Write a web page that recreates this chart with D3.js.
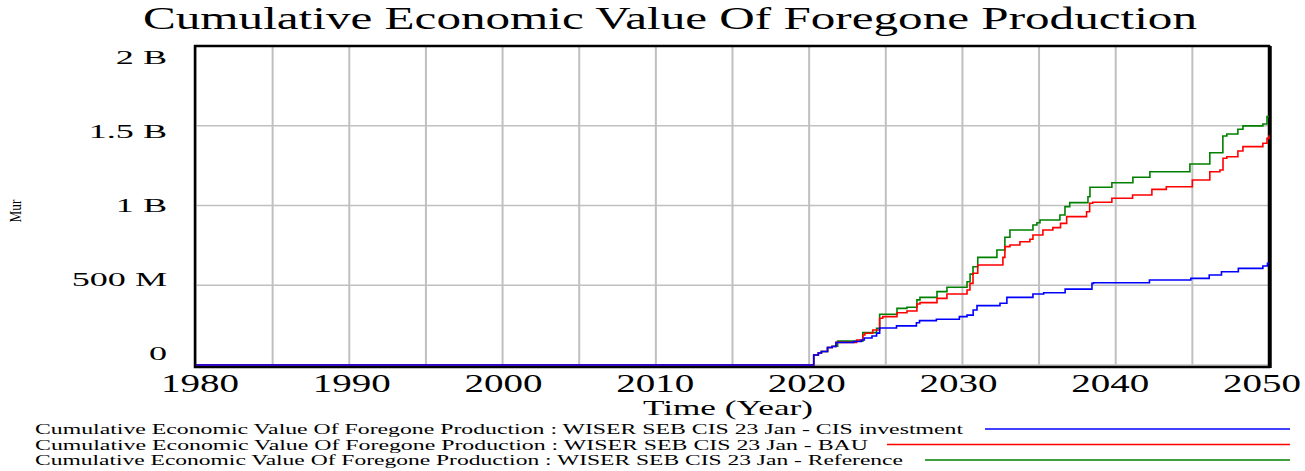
<!DOCTYPE html>
<html>
<head>
<meta charset="utf-8">
<script src="https://cdn.jsdelivr.net/npm/d3@7"></script>
<style>
  body { margin: 0; background: #fff; }
  text { font-family: "Liberation Serif", "Times New Roman", serif; fill: #000; }
</style>
</head>
<body>
<div id="chart"></div>
<script>
// values in millions (Mur)
var cisInvestment = [
  [1980, 0], [2020.1, 0], [2020.3, 63], [2020.6, 75], [2020.8, 85], [2021.2, 110], [2021.5, 116],
  [2021.75, 141], [2022.9, 147], [2023.4, 157], [2023.6, 169], [2024.1, 182], [2024.4, 200],
  [2024.6, 232], [2025.7, 245], [2027.0, 265], [2027.2, 278], [2028.3, 287], [2029.8, 303],
  [2030.3, 313], [2030.7, 345], [2030.95, 372], [2032.45, 387], [2032.9, 424], [2034.6, 445],
  [2035.3, 453], [2036.7, 476], [2038.45, 512], [2038.55, 516], [2042.2, 533], [2044.9, 543],
  [2046.1, 564], [2046.9, 585], [2048.0, 606], [2049.6, 621], [2049.9, 638], [2050, 638]
]
var bau = [
  [1980, 0], [2020.1, 0], [2020.3, 63], [2020.6, 75], [2020.8, 85], [2021.2, 110], [2021.5, 116],
  [2021.75, 142], [2023.1, 157], [2023.5, 188], [2023.64, 199], [2024.15, 219], [2024.6, 293],
  [2024.8, 303], [2025.73, 328], [2026.38, 339], [2027.03, 382], [2027.23, 391], [2028.34, 418],
  [2028.99, 445], [2030.3, 470], [2030.49, 512], [2030.69, 575], [2031.0, 627], [2032.64, 675],
  [2032.77, 742], [2033.1, 752], [2033.75, 773], [2034.4, 788], [2034.6, 815], [2035.25, 846],
  [2035.9, 861], [2036.4, 888], [2036.8, 930], [2038.1, 961], [2038.3, 1014], [2038.5, 1020],
  [2039.75, 1045], [2041.1, 1066], [2042.36, 1101], [2043.3, 1118], [2045.0, 1160], [2046.14, 1212],
  [2046.8, 1223], [2047.0, 1296], [2047.25, 1306], [2047.97, 1342], [2048.3, 1369], [2049.6, 1390],
  [2049.87, 1421], [2050, 1440]
]
var reference = [
  [1980, 0], [2020.1, 0], [2020.3, 63], [2020.6, 75], [2020.8, 85], [2021.2, 110], [2021.5, 118],
  [2021.86, 150], [2023.5, 203], [2024.4, 230], [2024.6, 318], [2025.73, 355], [2026.38, 362],
  [2027.03, 408], [2027.23, 424], [2028.34, 460], [2028.99, 487], [2030.3, 522], [2030.5, 570],
  [2030.69, 616], [2031.0, 675], [2032.25, 721], [2032.77, 801], [2033.1, 846], [2034.6, 878],
  [2034.86, 892], [2035.06, 909], [2036.36, 940], [2036.69, 993], [2037.0, 1018], [2038.19, 1055],
  [2038.32, 1114], [2039.75, 1143], [2041.12, 1177], [2042.23, 1212], [2044.84, 1260],
  [2046.14, 1331], [2046.99, 1436], [2047.25, 1448], [2047.97, 1478], [2048.3, 1499],
  [2049.6, 1511], [2049.87, 1557], [2050, 1557]
]

var seriesNames = [
  "Cumulative Economic Value Of Foregone Production : WISER SEB CIS 23 Jan - CIS investment",
  "Cumulative Economic Value Of Foregone Production : WISER SEB CIS 23 Jan - BAU",
  "Cumulative Economic Value Of Foregone Production : WISER SEB CIS 23 Jan - Reference"
]
var seriesColors = ["#0000ff", "#ff0000", "#008000"]
var yTicks = [0, 500, 1000, 1500, 2000]
var yTickLabels = ["0", "500 M", "1 B", "1.5 B", "2 B"]
var xGrid = d3.range(1980, 2051, 5)
var xTicks = d3.range(1980, 2051, 10)

var width = 1305, height = 471
var margin = {top: 46, left: 196, right: 36, bottom: 106}

var svg = d3.select("#chart").append("svg")
    .attr("width", width)
    .attr("height", height)

var x = d3.scaleLinear().domain([1980, 2050]).range([margin.left, width - margin.right])
var y = d3.scaleLinear().domain([0, 2000]).range([height - margin.bottom, margin.top])
// the labels are spread a bit inside the frame
var yLab = d3.scaleLinear().domain([0, 2000]).range([353, 57])
var xLab = d3.scaleLinear().domain([1980, 2050]).range([200, 1262])

// grid
svg.append("g").selectAll("line")
    .data(xGrid)
    .enter().append("line")
    .attr("x1", function (d) { return x(d) })
    .attr("x2", function (d) { return x(d) })
    .attr("y1", y(2000))
    .attr("y2", y(0))
    .attr("stroke", "#c0c0c0")
    .attr("stroke-width", 2)

svg.append("g").selectAll("line")
    .data(yTicks)
    .enter().append("line")
    .attr("x1", x(1980))
    .attr("x2", x(2050))
    .attr("y1", function (d) { return y(d) })
    .attr("y2", function (d) { return y(d) })
    .attr("stroke", "#c0c0c0")
    .attr("stroke-width", 1.5)

// frame
svg.append("rect")
    .attr("x", x(1980) - 1)
    .attr("y", y(2000))
    .attr("width", x(2050) - x(1980) + 1)
    .attr("height", y(0) - y(2000) + 2)
    .attr("fill", "none")
    .attr("stroke", "#000")
    .attr("stroke-width", 2.5)
svg.append("line")
    .attr("x1", x(2050) + 1).attr("x2", x(2050) + 1)
    .attr("y1", y(2000)).attr("y2", y(0) + 3)
    .attr("stroke", "#000").attr("stroke-width", 3.5)

// lines
var line = d3.line()
    .x(function (d) { return x(d[0]) })
    .y(function (d) { return y(d[1]) })
    .curve(d3.curveStepAfter)

var allSeries = [cisInvestment, bau, reference]
// blue drawn last so the shared start shows blue like the original
svg.append("g").selectAll("path")
    .data([reference, bau, cisInvestment])
    .enter().append("path")
    .attr("d", line)
    .attr("fill", "none")
    .attr("stroke", function (d) { return seriesColors[allSeries.indexOf(d)] })
    .attr("stroke-width", 1.6)

// helper: stretch text horizontally like the original bitmap
function stretch(sel, factor) {
    sel.each(function () {
        var w = this.getComputedTextLength()
        d3.select(this).attr("textLength", w * factor).attr("lengthAdjust", "spacingAndGlyphs")
    })
}

// y tick labels
svg.append("g").selectAll("text")
    .data(yTicks)
    .enter().append("text")
    .attr("x", 167)
    .attr("y", function (d) { return yLab(d) + 7 })
    .attr("text-anchor", "end")
    .style("font-size", "19px")
    .text(function (d, i) { return yTickLabels[i] })
    .call(stretch, 1.9)

// x tick labels
svg.append("g").selectAll("text")
    .data(xTicks)
    .enter().append("text")
    .attr("x", function (d) { return xLab(d) })
    .attr("y", 392)
    .attr("text-anchor", "middle")
    .style("font-size", "26px")
    .text(function (d) { return d })
    .call(stretch, 1.5)

// title
svg.append("text")
    .attr("x", 670)
    .attr("y", 29)
    .attr("text-anchor", "middle")
    .style("font-size", "32px")
    .attr("textLength", 1054)
    .attr("lengthAdjust", "spacingAndGlyphs")
    .text("Cumulative Economic Value Of Foregone Production")

// axis titles
svg.append("text")
    .attr("x", 728)
    .attr("y", 415)
    .attr("text-anchor", "middle")
    .style("font-size", "22px")
    .attr("textLength", 170)
    .attr("lengthAdjust", "spacingAndGlyphs")
    .text("Time (Year)")

svg.append("text")
    .attr("transform", "translate(21,211) rotate(-90)")
    .attr("text-anchor", "middle")
    .style("font-size", "16px")
    .attr("textLength", 23)
    .attr("lengthAdjust", "spacingAndGlyphs")
    .text("Mur")

// legend
var legendTextEnd = [963, 868, 903]
var legendLineStart = [985, 887, 925]
var legend = svg.append("g").selectAll("g")
    .data(seriesNames)
    .enter().append("g")
    .attr("transform", function (d, i) { return "translate(0," + (434 + i * 15.5) + ")" })

legend.append("text")
    .attr("x", 35)
    .attr("y", 0)
    .style("font-size", "14px")
    .attr("textLength", function (d, i) { return legendTextEnd[i] - 35 })
    .attr("lengthAdjust", "spacingAndGlyphs")
    .text(function (d) { return d })

legend.append("line")
    .attr("x1", function (d, i) { return legendLineStart[i] })
    .attr("x2", 1290)
    .attr("y1", -5)
    .attr("y2", -5)
    .attr("stroke", function (d, i) { return seriesColors[i] })
    .attr("stroke-width", 1.3)
</script>
</body>
</html>
